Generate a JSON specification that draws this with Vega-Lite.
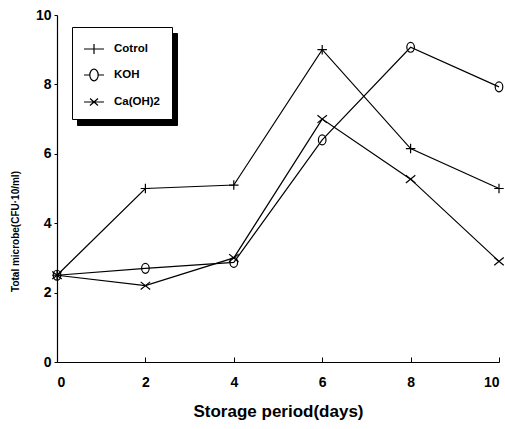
{
  "$schema": "https://vega.github.io/schema/vega-lite/v6.json",
  "width": 442,
  "height": 347,
  "autosize": {"type": "none"},
  "padding": {"left": 57, "top": 15, "right": 6, "bottom": 67},
  "background": "white",
  "config": {
    "view": {"stroke": null},
    "font": "Liberation Sans",
    "axis": {
      "grid": false,
      "domainColor": "black",
      "tickColor": "black",
      "labelColor": "black",
      "titleColor": "black",
      "labelFontWeight": "bold",
      "titleFontWeight": "bold",
      "labelFontSize": 14,
      "domainWidth": 1.2,
      "tickWidth": 1
    }
  },
  "data": {
    "values": [
      {"day": 0, "value": 2.5, "series": "Cotrol"},
      {"day": 2, "value": 5.0, "series": "Cotrol"},
      {"day": 4, "value": 5.1, "series": "Cotrol"},
      {"day": 6, "value": 9.0, "series": "Cotrol"},
      {"day": 8, "value": 6.15, "series": "Cotrol"},
      {"day": 10, "value": 5.0, "series": "Cotrol"},
      {"day": 0, "value": 2.5, "series": "KOH"},
      {"day": 2, "value": 2.7, "series": "KOH"},
      {"day": 4, "value": 2.87, "series": "KOH"},
      {"day": 6, "value": 6.4, "series": "KOH"},
      {"day": 8, "value": 9.07, "series": "KOH"},
      {"day": 10, "value": 7.93, "series": "KOH"},
      {"day": 0, "value": 2.5, "series": "Ca(OH)2"},
      {"day": 2, "value": 2.2, "series": "Ca(OH)2"},
      {"day": 4, "value": 3.0, "series": "Ca(OH)2"},
      {"day": 6, "value": 7.0, "series": "Ca(OH)2"},
      {"day": 8, "value": 5.27, "series": "Ca(OH)2"},
      {"day": 10, "value": 2.9, "series": "Ca(OH)2"}
    ]
  },
  "encoding": {
    "x": {
      "field": "day",
      "type": "quantitative",
      "scale": {"domain": [0, 10], "nice": false},
      "axis": {
        "values": [0, 2, 4, 6, 8, 10],
        "tickSize": -5,
        "labelPadding": 18,
        "title": "Storage period(days)",
        "titleFontSize": 17,
        "titleBaseline": "alphabetic",
        "titleY": 54
      }
    },
    "y": {
      "field": "value",
      "type": "quantitative",
      "scale": {"domain": [0, 10], "nice": false},
      "axis": {
        "values": [0, 2, 4, 6, 8, 10],
        "tickSize": 3,
        "labelPadding": 3,
        "title": "Total microbe(CFU·10/ml)",
        "titleFontSize": 10,
        "titleX": -42,
        "titleY": 216,
        "titleAlign": "center",
        "titleBaseline": "middle"
      }
    }
  },
  "resolve": {"scale": {"shape": "independent"}, "legend": {"shape": "independent"}},
  "layer": [
    {
      "mark": {"type": "line", "color": "black", "strokeWidth": 1.2},
      "encoding": {"detail": {"field": "series"}}
    },
    {
      "mark": {"type": "point", "filled": false, "color": "black", "strokeWidth": 1.2, "opacity": 1, "size": 90},
      "encoding": {
        "shape": {
          "field": "series",
          "type": "nominal",
          "scale": {
            "domain": ["Cotrol", "KOH", "Ca(OH)2"],
            "range": [
              "M-1,0H1M0,-1V1",
              "M-0.8,0A0.8,1.05 0 1,0 0.8,0A0.8,1.05 0 1,0 -0.8,0",
              "M-1,-0.8L1,0.8M-1,0.8L1,-0.8"
            ]
          },
          "legend": null
        }
      }
    },
    {
      "transform": [{"filter": "datum.day < 0"}],
      "mark": {"type": "point", "filled": false, "color": "black", "strokeWidth": 1.2, "opacity": 1, "size": 400},
      "encoding": {
        "shape": {
          "field": "series",
          "type": "nominal",
          "scale": {
            "domain": ["Cotrol", "KOH", "Ca(OH)2"],
            "range": [
              "M-1,0H1M0,-0.5V0.5",
              "M-1,0H-0.42M0.42,0H1M-0.42,0A0.42,0.58 0 1,0 0.42,0A0.42,0.58 0 1,0 -0.42,0",
              "M-1,0H1M-0.4,-0.35L0.4,0.35M-0.4,0.35L0.4,-0.35"
            ]
          },
          "legend": {
            "title": null,
            "orient": "none",
            "legendX": 15,
            "legendY": 12,
            "zindex": 3,
            "padding": 11,
            "fillColor": "white",
            "strokeColor": "black",
            "symbolSize": 400,
            "symbolStrokeWidth": 1.2,
            "symbolStrokeColor": "black",
            "rowPadding": 7,
            "labelOffset": 9,
            "labelFontSize": 11.5,
            "labelFontWeight": "bold",
            "labelColor": "black",
            "labelExpr": "datum.label + '      '",
            "encode": {
              "legend": {"update": {"strokeWidth": {"value": 1.2}}}
            }
          }
        }
      }
    },
    {
      "transform": [{"filter": "datum.day < 0"}],
      "mark": {"type": "point", "filled": false, "color": "black", "strokeWidth": 1.2, "opacity": 1, "size": 400},
      "encoding": {
        "shape": {
          "field": "series",
          "type": "nominal",
          "scale": {
            "domain": ["Cotrol", "KOH", "Ca(OH)2"],
            "range": [
              "M-1,0H1M0,-0.5V0.5",
              "M-1,0H-0.42M0.42,0H1M-0.42,0A0.42,0.58 0 1,0 0.42,0A0.42,0.58 0 1,0 -0.42,0",
              "M-1,0H1M-0.4,-0.35L0.4,0.35M-0.4,0.35L0.4,-0.35"
            ]
          },
          "legend": {
            "title": null,
            "orient": "none",
            "legendX": 20,
            "legendY": 18,
            "zindex": 1,
            "padding": 11,
            "fillColor": "black",
            "strokeColor": "black",
            "symbolSize": 400,
            "symbolStrokeWidth": 1.2,
            "symbolStrokeColor": "black",
            "rowPadding": 7,
            "labelOffset": 56,
            "labelFontSize": 11.5,
            "labelFontWeight": "bold",
            "labelColor": "black",
            "labelExpr": "''"
          }
        }
      }
    }
  ]
}
